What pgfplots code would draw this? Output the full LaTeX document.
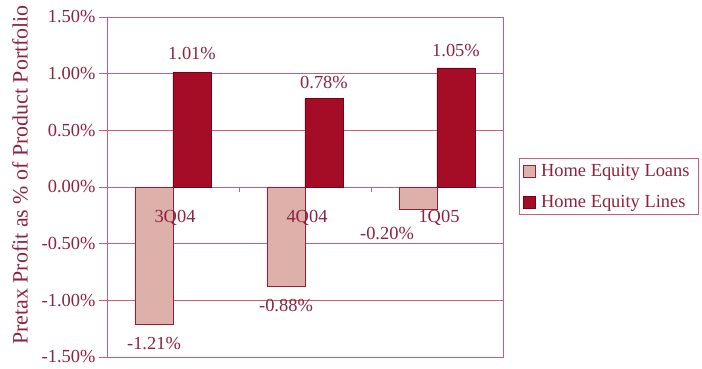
\documentclass[border=0pt]{standalone}
\usepackage{pgfplots}
\pgfplotsset{compat=1.18}
\usepackage{pgfplotstable}
\usepackage{fontspec}
\setmainfont{Liberation Serif}

\definecolor{axisred}{RGB}{196,96,120}
\definecolor{textred}{RGB}{140,35,65}
\definecolor{linesfill}{RGB}{165,12,38}
\definecolor{linesdraw}{RGB}{120,0,25}
\definecolor{loansfill}{RGB}{222,176,170}
\definecolor{loansdraw}{RGB}{150,30,55}

% quarter index, pretax profit (%), label offsets (bp)
\pgfplotstableread{
x y dx dy
0 -1.21 0 -9
1 -0.88 0 -9
2 -0.20 -31 -14
}\loans
\pgfplotstableread{
x y dx dy
0 1.01 0 9
1 0.78 0 6
2 1.05 0 8
}\lines

\newcommand{\chartfont}{\fontsize{18.5}{20}\selectfont}

\begin{document}
\begin{tikzpicture}
\useasboundingbox (-107bp,-12bp) rectangle (595bp,357bp);
\begin{axis}[
  scale only axis, width=396bp, height=340bp,
  xmin=-0.5, xmax=2.5, ymin=-1.5, ymax=1.5,
  ytick={-1.5,-1,...,1.5},
  xtick=\empty,
  ymajorgrids, grid style={axisred, line width=0.6bp},
  axis line style={axisred, line width=0.8bp},
  major tick style={axisred, line width=0.6bp},
  tick align=outside, major tick length=8bp,
  ytick pos=left,
  /pgf/number format/assume math mode=true,
  yticklabel={\pgfmathprintnumber[fixed,fixed zerofill,precision=2]{\tick}\%},
  ticklabel style={font=\chartfont, text=textred},
  ybar, bar width=38bp,
  legend image code/.code={\draw[#1] (3bp,-6bp) rectangle (15bp,6bp);},
  point meta=y,
  nodes near coords={\pgfmathprintnumber[fixed,fixed zerofill,precision=2]{\pgfplotspointmeta}\%},
  visualization depends on={\thisrow{dx}\as\dx},
  visualization depends on={\thisrow{dy}\as\dy},
  nodes near coords style={font=\chartfont, text=textred, xshift=\dx*1bp, yshift=\dy*1bp},
  legend style={at={(1.0404,0.585)}, anchor=north west, draw=axisred,
    line width=0.6bp, fill=white, font=\chartfont, text=textred,
    row sep=13bp, inner xsep=4bp, inner ysep=4bp, cells={anchor=west},
    nodes={inner xsep=5bp}},
]
\addplot[fill=loansfill, draw=loansdraw, line width=0.8bp, bar shift=-19bp]
  table[x=x, y=y] {\loans};
\addlegendentry{Home Equity Loans}
\addplot[fill=linesfill, draw=linesdraw, line width=0.8bp, bar shift=19bp]
  table[x=x, y=y] {\lines};
\addlegendentry{Home Equity Lines}

% quarter names set on the zero line
\node[font=\chartfont, text=textred] at (axis cs:0,0) [xshift=2bp, yshift=-31bp] {3Q04};
\node[font=\chartfont, text=textred] at (axis cs:1,0) [xshift=2bp, yshift=-31bp] {4Q04};
\node[font=\chartfont, text=textred] at (axis cs:2,0) [xshift=2bp, yshift=-31bp] {1Q05};
\draw[axisred, line width=0.6bp] (axis cs:0.5,0) -- ([yshift=-5bp]axis cs:0.5,0);
\draw[axisred, line width=0.6bp] (axis cs:1.5,0) -- ([yshift=-5bp]axis cs:1.5,0);
\end{axis}
\node[rotate=90, font=\fontsize{22}{24}\selectfont, text=textred] at (-87bp,182bp)
  {Pretax Profit as \% of Product Portfolio};
\end{tikzpicture}
\end{document}
